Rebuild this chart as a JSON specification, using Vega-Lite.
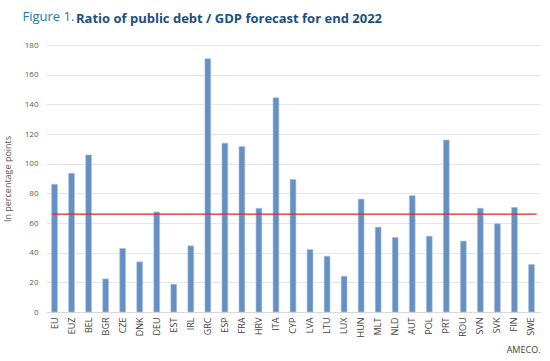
{
  "$schema": "https://vega.github.io/schema/vega-lite/v6.json",
  "autosize": "none",
  "width": 494,
  "height": 267,
  "padding": {"left": 46, "top": 45, "right": 10, "bottom": 49},
  "background": "white",
  "title": {
    "text": "Ratio of public debt / GDP forecast for end 2022",
    "anchor": "start",
    "frame": "group",
    "dx": 30,
    "offset": -16,
    "font": "Open Sans",
    "fontSize": 13,
    "fontWeight": "bold",
    "color": "#1b4f82"
  },
  "config": {
    "view": {"stroke": null},
    "font": "Open Sans"
  },
  "resolve": {"axis": {"x": "independent"}},
  "data": {
    "values": [
      {"country": "EU", "debt": 86.1},
      {"country": "EUZ", "debt": 93.5},
      {"country": "BEL", "debt": 105.9},
      {"country": "BGR", "debt": 22.3},
      {"country": "CZE", "debt": 42.8},
      {"country": "DNK", "debt": 33.8},
      {"country": "DEU", "debt": 67.4},
      {"country": "EST", "debt": 18.7},
      {"country": "IRL", "debt": 44.6},
      {"country": "GRC", "debt": 170.7},
      {"country": "ESP", "debt": 113.8},
      {"country": "FRA", "debt": 111.5},
      {"country": "HRV", "debt": 69.9},
      {"country": "ITA", "debt": 144.4},
      {"country": "CYP", "debt": 89.4},
      {"country": "LVA", "debt": 42.1},
      {"country": "LTU", "debt": 37.6},
      {"country": "LUX", "debt": 24.1},
      {"country": "HUN", "debt": 76.1},
      {"country": "MLT", "debt": 57.2},
      {"country": "NLD", "debt": 50.2},
      {"country": "AUT", "debt": 78.4},
      {"country": "POL", "debt": 51.1},
      {"country": "PRT", "debt": 116.0},
      {"country": "ROU", "debt": 47.8},
      {"country": "SVN", "debt": 69.9},
      {"country": "SVK", "debt": 59.5},
      {"country": "FIN", "debt": 70.5},
      {"country": "SWE", "debt": 32.0}
    ]
  },
  "layer": [
    {
      "mark": {"type": "bar", "color": "#6490c2", "stroke": "#a6c0e0", "strokeWidth": 0.6},
      "encoding": {
        "x": {
          "field": "country",
          "type": "nominal",
          "sort": null,
          "scale": {
            "domain": ["EU", "EUZ", "BEL", "BGR", "CZE", "DNK", "DEU", "EST", "IRL", "GRC", "ESP", "FRA", "HRV", "ITA", "CYP", "LVA", "LTU", "LUX", "HUN", "MLT", "NLD", "AUT", "POL", "PRT", "ROU", "SVN", "SVK", "FIN", "SWE"],
            "paddingInner": 0.66,
            "paddingOuter": 0.33
          },
          "axis": {
            "labelAngle": -90,
            "labelFontSize": 9,
            "labelColor": "#404040",
            "labelPadding": 5,
            "ticks": false,
            "domainColor": "#d9d9d9",
            "title": "AMECO.",
            "titleFontSize": 9,
            "titleFontWeight": "normal",
            "titleColor": "#404040",
            "titleAnchor": "end",
            "titleAlign": "right",
            "titleX": 494,
            "titleY": 37,
            "titleBaseline": "middle"
          }
        },
        "y": {
          "field": "debt",
          "type": "quantitative",
          "scale": {"domain": [0, 180]},
          "axis": {
            "values": [0, 20, 40, 60, 80, 100, 120, 140, 160, 180],
            "domain": false,
            "ticks": false,
            "gridColor": "#e6e6e6",
            "labelFontSize": 8,
            "labelColor": "#595959",
            "labelPadding": 8,
            "title": "In percentage points",
            "titleFontSize": 9,
            "titleFontWeight": "normal",
            "titleColor": "#595959",
            "titlePadding": 12
          }
        }
      }
    },
    {
      "data": {"values": [{"from": "EU", "to": "SWE", "limit": 66}]},
      "mark": {"type": "rule", "color": "#e8211f", "strokeWidth": 1.3},
      "encoding": {
        "x": {
          "field": "from",
          "type": "nominal",
          "bandPosition": 0.1,
          "axis": {
            "orient": "top",
            "labels": false,
            "ticks": false,
            "domain": false,
            "grid": false,
            "title": "Figure 1.",
            "titleX": -24,
            "titleY": -25,
            "titleAnchor": "start",
            "titleAlign": "left",
            "titleBaseline": "alphabetic",
            "titleFont": "Open Sans",
            "titleFontSize": 13,
            "titleFontWeight": "normal",
            "titleColor": "#2278b5"
          }
        },
        "x2": {"field": "to", "bandPosition": 1.4},
        "y": {
          "field": "limit",
          "type": "quantitative",
          "axis": {
            "values": [0, 20, 40, 60, 80, 100, 120, 140, 160, 180],
            "domain": false,
            "ticks": false,
            "gridColor": "#e6e6e6",
            "labelFontSize": 8,
            "labelColor": "#595959",
            "labelPadding": 8,
            "title": "In percentage points",
            "titleFontSize": 9,
            "titleFontWeight": "normal",
            "titleColor": "#595959",
            "titlePadding": 12
          }
        }
      }
    }
  ]
}
